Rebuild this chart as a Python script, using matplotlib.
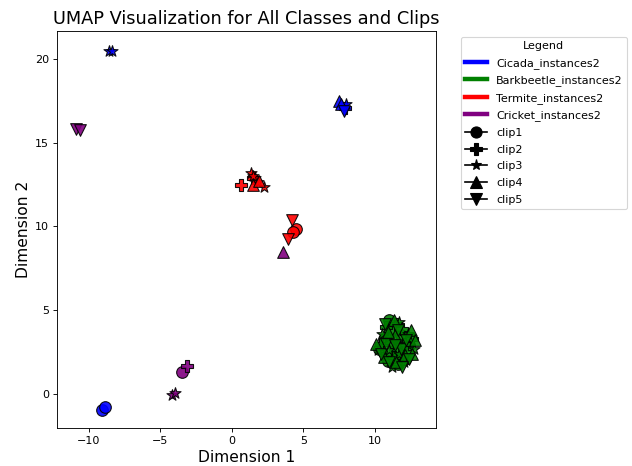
import matplotlib
matplotlib.use("Agg")
import matplotlib.pyplot as plt
from matplotlib.lines import Line2D
import numpy as np

classes = ["Cicada_instances2", "Barkbeetle_instances2", "Termite_instances2", "Cricket_instances2"]
class_colors = ["blue", "green", "red", "purple"]
clips = ["clip1", "clip2", "clip3", "clip4", "clip5"]
clip_markers = ["o", "P", "*", "^", "v"]

# Cicada points
cicada_x = [-9.1, -8.85, 7.9, -8.6, -8.4, 8.0, 7.5, 7.6, 7.8]
cicada_y = [-0.95, -0.8, 17.1, 20.5, 20.45, 17.3, 17.5, 17.3, 16.9]
cicada_clip = [1, 1, 2, 3, 3, 3, 4, 4, 5]

# Barkbeetle points
barkbeetle_x = [11.0, 10.6, 11.4, 12.1, 10.9, 11.8, 12.4, 10.3, 11.2, 11.6,
                10.8, 11.5, 10.4, 11.1, 12.0, 12.6, 11.3, 10.7, 12.2, 11.9,
                11.7, 10.5, 11.0, 11.6, 12.3, 12.7, 10.2, 11.0, 11.7, 12.0, 11.2,
                12.5, 12.8, 10.1, 11.4, 10.6, 12.1, 11.5, 12.6, 10.9, 11.3,
                11.8, 10.4, 12.2, 10.8, 11.4, 12.4, 11.0, 11.6, 10.7, 11.9]
barkbeetle_y = [4.4, 3.3, 2.6, 2.1, 2.0, 3.5, 2.9, 2.7, 3.9, 1.8,
                4.0, 4.2, 3.0, 3.1, 3.0, 3.3, 2.2, 2.4, 2.5, 3.9,
                4.3, 3.6, 3.4, 3.0, 3.6, 2.7, 2.6, 2.6, 2.4, 1.9, 1.6,
                3.8, 3.2, 3.0, 3.5, 2.2, 2.3, 1.9, 2.4, 3.7, 4.4,
                2.7, 2.4, 3.2, 3.0, 2.9, 2.1, 1.9, 3.8, 4.2, 1.6]
barkbeetle_clip = [1] * 10 + [2] * 10 + [3] * 11 + [4] * 10 + [5] * 10

# Termite points
termite_x = [4.5, 4.3, 0.6, 1.5, 1.3, 1.6, 1.8, 2.25, 1.45, 1.5, 1.9, 4.2, 3.9]
termite_y = [9.85, 9.7, 12.5, 12.9, 13.2, 12.9, 12.65, 12.35, 13.0, 12.5, 12.7, 10.4, 9.25]
termite_clip = [1, 1, 2, 2, 3, 3, 3, 3, 3, 4, 4, 5, 5]

# Cricket points
cricket_x = [-3.5, -3.15, -4.2, -4.0, 3.55, -10.9, -10.6]
cricket_y = [1.3, 1.65, -0.05, 0.05, 8.5, 15.8, 15.75]
cricket_clip = [1, 2, 3, 3, 4, 5, 5]

data = [
    (cicada_x, cicada_y, cicada_clip),
    (barkbeetle_x, barkbeetle_y, barkbeetle_clip),
    (termite_x, termite_y, termite_clip),
    (cricket_x, cricket_y, cricket_clip),
]

fig = plt.figure(figsize=(7.9, 5.825), dpi=80)
ax = fig.add_axes([0.090, 0.0815, 0.600, 0.852])

for (xs, ys, cs), color in zip(data, class_colors):
    xs = np.array(xs); ys = np.array(ys); cs = np.array(cs)
    for k, m in enumerate(clip_markers, start=1):
        sel = cs == k
        if sel.any():
            ax.scatter(xs[sel], ys[sel], c=color, marker=m, s=110,
                       edgecolors="black", alpha=0.9)

ax.set_xlim(-12.24, 14.27)
ax.set_ylim(-2.03, 21.67)
ax.set_title("UMAP Visualization for All Classes and Clips", fontsize=16)
ax.set_xlabel("Dimension 1", fontsize=14)
ax.set_ylabel("Dimension 2", fontsize=14)

handles = [Line2D([0], [0], color=c, lw=4, label=n) for n, c in zip(classes, class_colors)]
handles += [Line2D([0], [0], color="black", marker=m, markersize=10, label=n)
            for n, m in zip(clips, clip_markers)]
ax.legend(handles=handles, title="Legend", bbox_to_anchor=(1.05, 1), loc="upper left",
          labelspacing=0.6)

fig.savefig("out.png", dpi=80)
